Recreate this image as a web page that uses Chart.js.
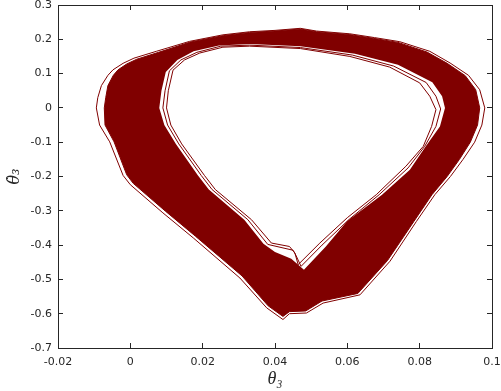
<!DOCTYPE html>
<html>
<head>
<meta charset="utf-8">
<script src="https://cdn.jsdelivr.net/npm/chart.js@4/dist/chart.umd.min.js"></script>
<style>
  html, body { margin: 0; padding: 0; background: #fff; }
  #wrap { width: 501px; height: 391px; }
</style>
</head>
<body>
<div id="wrap"><canvas id="phase" width="501" height="391"></canvas></div>
<script>
// tick labels
const xTickLabels = ['-0.02', '0', '0.02', '0.04', '0.06', '0.08', '0.1'];
const yTickLabels = ['-0.7', '-0.6', '-0.5', '-0.4', '-0.3', '-0.2', '-0.1', '0', '0.1', '0.2', '0.3'];

// [theta3, theta3dot]
// outermost trajectory line
const outerEdge = [
  [-0.0094, 0.000], [-0.0090, 0.030], [-0.0080, 0.065], [-0.0062, 0.095], [-0.0048, 0.111],
  [-0.0020, 0.130], [0.0010, 0.145], [0.0072, 0.165], [0.0164, 0.194], [0.0256, 0.213],
  [0.0330, 0.222], [0.0400, 0.226], [0.0470, 0.232], [0.0515, 0.224], [0.0607, 0.216],
  [0.0675, 0.205], [0.0745, 0.193], [0.0828, 0.165], [0.0884, 0.131], [0.0935, 0.095],
  [0.0966, 0.053], [0.0980, 0.000], [0.0972, -0.050], [0.0952, -0.100], [0.0920, -0.150],
  [0.0885, -0.200], [0.0842, -0.253], [0.0791, -0.331], [0.0718, -0.447], [0.0635, -0.545],
  [0.0533, -0.569], [0.0487, -0.598], [0.0440, -0.600], [0.0422, -0.617], [0.0377, -0.583],
  [0.0303, -0.496], [0.0174, -0.379], [0.0090, -0.306], [0.0000, -0.224], [-0.0020, -0.197],
  [-0.0057, -0.099], [-0.0085, -0.050], [-0.0094, 0.000]
];
// edge of the dense part of the band, outside
const outerSolid = [
  [-0.0072, 0.000], [-0.0068, 0.030], [-0.0062, 0.065], [-0.0047, 0.095], [-0.0034, 0.111],
  [-0.0010, 0.128], [0.0018, 0.142], [0.0078, 0.162], [0.0166, 0.192], [0.0258, 0.211],
  [0.0330, 0.220], [0.0400, 0.224], [0.0470, 0.230], [0.0515, 0.222], [0.0605, 0.214],
  [0.0672, 0.203], [0.0740, 0.191], [0.0820, 0.163], [0.0876, 0.130], [0.0926, 0.094],
  [0.0955, 0.053], [0.0966, 0.000], [0.0960, -0.050], [0.0940, -0.100], [0.0910, -0.150],
  [0.0876, -0.200], [0.0834, -0.253], [0.0784, -0.331], [0.0711, -0.445], [0.0629, -0.541],
  [0.0530, -0.563], [0.0485, -0.592], [0.0440, -0.594], [0.0422, -0.608], [0.0381, -0.577],
  [0.0309, -0.490], [0.0180, -0.374], [0.0097, -0.301], [0.0008, -0.220], [-0.0010, -0.195],
  [-0.0045, -0.099], [-0.0070, -0.050], [-0.0072, 0.000]
];
// edge of the dense part of the band, inside (the hole)
const holeEdge = [
  [0.0080, 0.000], [0.0086, 0.050], [0.0098, 0.105], [0.0130, 0.140], [0.0175, 0.165],
  [0.0245, 0.182], [0.0330, 0.186], [0.0470, 0.180], [0.0621, 0.158], [0.0740, 0.126],
  [0.0835, 0.075], [0.0862, 0.034], [0.0870, 0.000], [0.0856, -0.054], [0.0817, -0.112],
  [0.0773, -0.180], [0.0696, -0.253], [0.0600, -0.330], [0.0540, -0.405], [0.0480, -0.472],
  [0.0445, -0.440], [0.0400, -0.420], [0.0368, -0.396], [0.0315, -0.326], [0.0217, -0.238],
  [0.0187, -0.197], [0.0126, -0.105], [0.0094, -0.050], [0.0080, 0.000]
];
// loose lines at the inner side
const innerLineA = [
  [0.0090, 0.000], [0.0096, 0.050], [0.0108, 0.108], [0.0140, 0.140], [0.0184, 0.162],
  [0.0250, 0.180], [0.0330, 0.183], [0.0470, 0.176], [0.0614, 0.154], [0.0728, 0.122],
  [0.0818, 0.074], [0.0845, 0.034], [0.0858, -0.003], [0.0845, -0.054], [0.0814, -0.112],
  [0.0768, -0.175], [0.0688, -0.253], [0.0605, -0.325], [0.0530, -0.400], [0.0472, -0.462],
  [0.0458, -0.430], [0.0450, -0.415], [0.0380, -0.398], [0.0325, -0.326], [0.0226, -0.238],
  [0.0196, -0.197], [0.0134, -0.105], [0.0103, -0.050], [0.0090, 0.000]
];
const innerLineB = [
  [0.0100, 0.000], [0.0105, 0.050], [0.0118, 0.110], [0.0150, 0.140], [0.0192, 0.160],
  [0.0256, 0.177], [0.0330, 0.180], [0.0470, 0.173], [0.0607, 0.150], [0.0717, 0.119],
  [0.0800, 0.073], [0.0828, 0.034], [0.0845, -0.005], [0.0833, -0.054], [0.0810, -0.112],
  [0.0762, -0.170], [0.0680, -0.253], [0.0600, -0.320], [0.0524, -0.394], [0.0464, -0.457],
  [0.0455, -0.423], [0.0440, -0.404], [0.0390, -0.394], [0.0335, -0.326], [0.0235, -0.238],
  [0.0205, -0.197], [0.0142, -0.105], [0.0112, -0.050], [0.0100, 0.000]
];

const RED = '#800000';
const AXIS = '#262626';

function loop(data, fillColor, lineColor, order) {
  return {
    data: data,
    fill: fillColor ? 'shape' : false,
    backgroundColor: fillColor || 'rgba(0,0,0,0)',
    borderColor: lineColor || 'rgba(0,0,0,0)',
    borderWidth: 1,
    pointRadius: 0,
    tension: 0,
    order: order
  };
}

function axis(pos, min, max, step, labels, size) {
  const horiz = pos === 'top' || pos === 'bottom';
  return {
    type: 'linear',
    position: pos,
    min: min,
    max: max,
    afterFit: s => {
      if (horiz) s.height = size; else s.width = size;
      s.paddingLeft = 0; s.paddingRight = 0; s.paddingTop = 0; s.paddingBottom = 0;
    },
    ticks: {
      display: !!labels,
      stepSize: step,
      color: AXIS,
      font: { family: 'DejaVu Sans', size: 11 },
      padding: horiz ? 13 : 11,
      callback: (v, i) => labels ? labels[i] : ''
    },
    grid: { drawOnChartArea: false, tickLength: -5, color: AXIS, lineWidth: 1 },
    border: { display: true, color: AXIS, width: 1 }
  };
}

const xScale = axis('bottom', -0.02, 0.1, 0.02, xTickLabels, 43);
xScale.title = {
  display: true, text: 'θ₃', color: AXIS,
  font: { family: 'Liberation Serif', style: 'italic', size: 18 },
  padding: { top: 0, bottom: 1 }
};
const yScale = axis('left', -0.7, 0.3, 0.1, yTickLabels, 58);
yScale.title = {
  display: true, text: 'θ̇₃', color: AXIS,
  font: { family: 'DejaVu Serif', style: 'italic', size: 16 },
  padding: { top: 5, bottom: 0 }
};

new Chart(document.getElementById('phase'), {
  type: 'line',
  data: {
    datasets: [
      loop(outerSolid, RED, RED, 6),
      loop(outerEdge, null, RED, 5),
      loop(holeEdge, '#ffffff', null, 4),
      loop(innerLineA, null, RED, 3),
      loop(innerLineB, null, RED, 2)
    ]
  },
  options: {
    responsive: false,
    animation: false,
    layout: { padding: 0 },
    plugins: { legend: { display: false }, tooltip: { enabled: false } },
    scales: {
      x: xScale,
      y: yScale,
      x2: axis('top', -0.02, 0.1, 0.02, null, 5),
      y2: axis('right', -0.7, 0.3, 0.1, null, 9)
    }
  }
});
</script>
</body>
</html>
